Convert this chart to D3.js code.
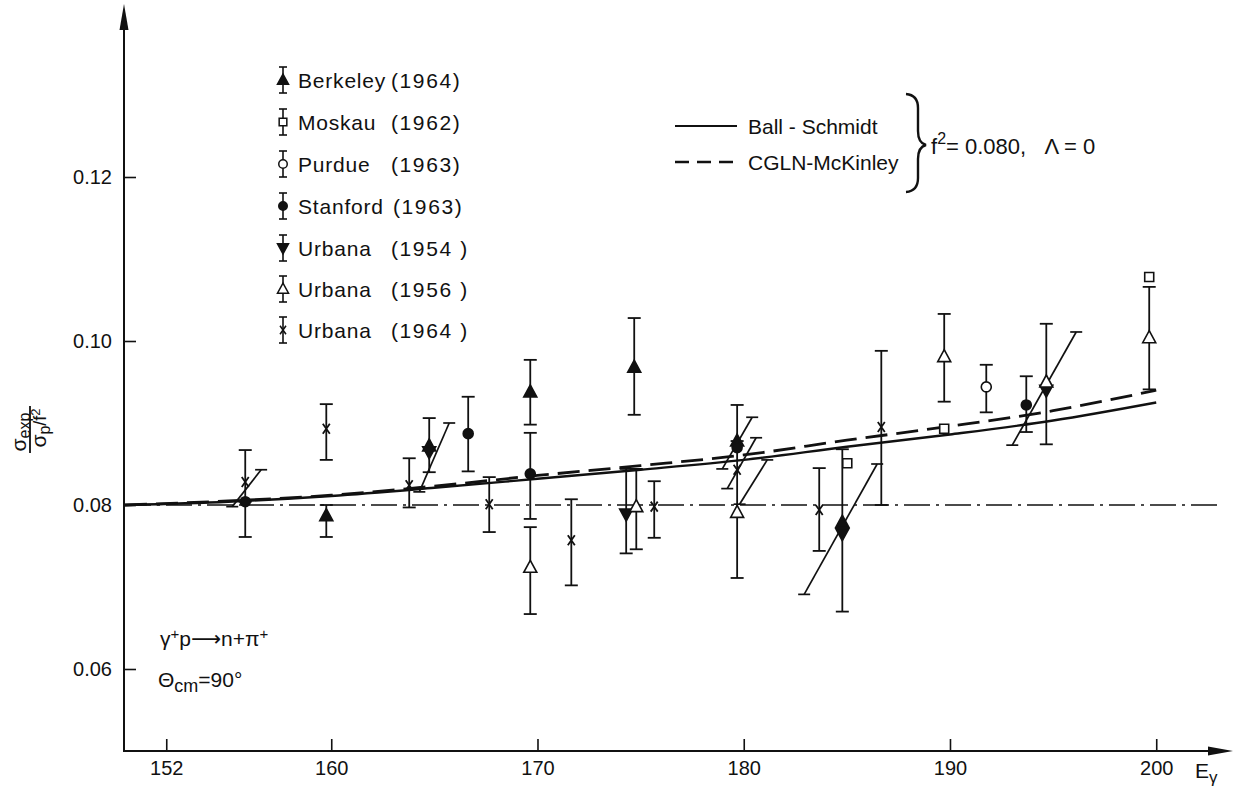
<!DOCTYPE html>
<html>
<head>
<meta charset="utf-8">
<script src="https://cdn.jsdelivr.net/npm/d3@7"></script>
<style>
  body { margin: 0; background: #fff; }
  text { font-family: "Liberation Sans", "DejaVu Sans", sans-serif; fill: #111; }
</style>
</head>
<body>
<svg id="chart" width="1235" height="787"></svg>
<script>
// axis ticks
const xTicks = [152, 160, 170, 180, 190, 200];
const yTicks = [0.06, 0.08, 0.10, 0.12];

// theory curves (E_gamma in MeV)
const curveE = [150, 155, 160, 165, 170, 175, 180, 185, 190, 195, 200];
const ballSchmidt = [0.0800, 0.0804, 0.0811, 0.0821, 0.0832, 0.0843, 0.0855, 0.0871, 0.0886, 0.0903, 0.0925];
const cglnMcKinley = [0.0800, 0.0805, 0.0812, 0.0823, 0.0836, 0.0848, 0.0861, 0.0879, 0.0896, 0.0915, 0.0940];
const refValue = 0.080;

// measurements: e = energy, v = ratio, lo/hi = error bar ends (null = none)
const berkeley = [
  {e: 159.76, v: 0.0787, lo: 0.0761, hi: 0.0800},
  {e: 164.75, v: 0.0872, lo: null,   hi: 0.0906},
  {e: 169.65, v: 0.0938, lo: 0.0898, hi: 0.0977},
  {e: 174.69, v: 0.0968, lo: 0.0910, hi: 0.1028},
  {e: 179.68, v: 0.0878, lo: null,   hi: 0.0922},
  {e: 184.78, v: 0.0779, lo: null,   hi: 0.0868}
];
const moskau = [
  {e: 185.02, v: 0.0851, lo: null, hi: null},
  {e: 189.72, v: 0.0893, lo: null, hi: null},
  {e: 199.66, v: 0.1078, lo: null, hi: null}
];
const purdue = [
  {e: 191.76, v: 0.0944, lo: 0.0913, hi: 0.0971}
];
const stanford = [
  {e: 155.83, v: 0.0804, lo: 0.0761, hi: null},
  {e: 166.64, v: 0.0887, lo: 0.0841, hi: 0.0932},
  {e: 169.65, v: 0.0838, lo: 0.0783, hi: 0.0888},
  {e: 179.68, v: 0.0870, lo: null,   hi: null},
  {e: 193.70, v: 0.0922, lo: 0.0889, hi: 0.0957}
];
const urbana54 = [
  {e: 164.75, v: 0.0865, lo: 0.0840, hi: null},
  {e: 174.30, v: 0.0789, lo: 0.0741, hi: 0.0844},
  {e: 184.78, v: 0.0765, lo: 0.0670, hi: null},
  {e: 194.67, v: 0.0940, lo: 0.0874, hi: null}
];
const urbana56 = [
  {e: 169.65, v: 0.0724, lo: 0.0667, hi: 0.0773},
  {e: 174.79, v: 0.0798, lo: 0.0746, hi: 0.0844},
  {e: 179.68, v: 0.0791, lo: 0.0711, hi: 0.0878},
  {e: 189.72, v: 0.0981, lo: 0.0926, hi: 0.1033},
  {e: 194.67, v: 0.0950, lo: null,   hi: 0.1021},
  {e: 199.66, v: 0.1004, lo: 0.0941, hi: 0.1066}
];
const urbana64 = [
  {e: 155.83, v: 0.0828, lo: 0.0804, hi: 0.0867},
  {e: 159.76, v: 0.0893, lo: 0.0855, hi: 0.0923},
  {e: 163.78, v: 0.0824, lo: 0.0797, hi: 0.0857},
  {e: 167.66, v: 0.0801, lo: 0.0767, hi: 0.0834},
  {e: 171.64, v: 0.0757, lo: 0.0702, hi: 0.0807},
  {e: 175.66, v: 0.0798, lo: 0.0760, hi: 0.0829},
  {e: 179.68, v: 0.0843, lo: null,   hi: null},
  {e: 183.66, v: 0.0794, lo: 0.0744, hi: 0.0845},
  {e: 186.67, v: 0.0895, lo: 0.0800, hi: 0.0988}
];

// slanted energy-resolution bars: [e1, v1, e2, v2]
const slants = [
  [155.2, 0.0798, 156.6, 0.0843],
  [164.27, 0.0816, 165.72, 0.0900],
  [178.96, 0.0844, 180.41, 0.0907],
  [179.2, 0.0820, 180.6, 0.0882],
  [179.8, 0.0801, 181.14, 0.0855],
  [182.93, 0.0691, 186.47, 0.0850],
  [193.02, 0.0873, 196.12, 0.1011]
];

const series = [
  {name: "Berkeley", year: "(1964)", data: berkeley, shape: "up", filled: true},
  {name: "Moskau", year: "(1962)", data: moskau, shape: "square", filled: false},
  {name: "Purdue", year: "(1963)", data: purdue, shape: "circle", filled: false},
  {name: "Stanford", year: "(1963)", data: stanford, shape: "circle", filled: true},
  {name: "Urbana", year: "(1954 )", data: urbana54, shape: "down", filled: true},
  {name: "Urbana", year: "(1956 )", data: urbana56, shape: "up", filled: false},
  {name: "Urbana", year: "(1964 )", data: urbana64, shape: "cross", filled: false}
];

const svg = d3.select("#chart");
const x = d3.scaleLinear().domain([150, 203]).range([125, 1218.1]);
const y = d3.scaleLinear().domain([0.05, 0.14]).range([751, 13]);

// ---------------- axes ----------------
const xAxis = svg.append("g")
  .attr("transform", "translate(0,751)")
  .call(d3.axisBottom(x).tickValues(xTicks).tickSizeInner(-12).tickSizeOuter(0).tickPadding(10).tickFormat(d3.format("d")));
const yAxis = svg.append("g")
  .attr("transform", "translate(124,0)")
  .call(d3.axisLeft(y).tickValues(yTicks).tickSizeInner(-12).tickSizeOuter(0).tickPadding(12).tickFormat(d3.format(".2f")));
[xAxis, yAxis].forEach(a => {
  a.select(".domain").remove();
  a.selectAll(".tick line").attr("stroke", "#111").attr("stroke-width", 1.6);
  a.selectAll(".tick text").style("font-size", "20px").style("font-family", "Liberation Sans, sans-serif").attr("fill", "#111");
});

svg.append("line").attr("x1", 124).attr("y1", 752).attr("x2", 124).attr("y2", 24)
  .attr("stroke", "#111").attr("stroke-width", 2);
svg.append("path").attr("d", "M124,4 L119.5,30 L128.5,30 Z").attr("fill", "#111");
svg.append("line").attr("x1", 123).attr("y1", 751).attr("x2", 1214).attr("y2", 751)
  .attr("stroke", "#111").attr("stroke-width", 2);
svg.append("path").attr("d", "M1233,751 L1208,746.5 L1208,755.5 Z").attr("fill", "#111");

// ---------------- reference + theory ----------------
svg.append("line")
  .attr("x1", x(150)).attr("x2", x(203)).attr("y1", y(refValue)).attr("y2", y(refValue))
  .attr("stroke", "#111").attr("stroke-width", 1.5).attr("stroke-dasharray", "26,6,3,6");

const line = d3.line().x(d => x(d[0])).y(d => y(d[1])).curve(d3.curveMonotoneX);
svg.append("path").datum(curveE.map((e, i) => [e, ballSchmidt[i]]))
  .attr("d", line).attr("fill", "none").attr("stroke", "#111").attr("stroke-width", 2.4);
svg.append("path").datum(curveE.map((e, i) => [e, cglnMcKinley[i]]))
  .attr("d", line).attr("fill", "none").attr("stroke", "#111").attr("stroke-width", 2.8)
  .attr("stroke-dasharray", "22,9");

// ---------------- slanted bars ----------------
const slantG = svg.append("g").attr("stroke", "#111").attr("stroke-width", 1.7);
slants.forEach(s => {
  const x1 = x(s[0]), y1 = y(s[1]), x2 = x(s[2]), y2 = y(s[3]);
  slantG.append("line").attr("x1", x1).attr("y1", y1).attr("x2", x2).attr("y2", y2);
  slantG.append("line").attr("x1", x1 - 6).attr("x2", x1 + 6).attr("y1", y1).attr("y2", y1);
  slantG.append("line").attr("x1", x2 - 6).attr("x2", x2 + 6).attr("y1", y2).attr("y2", y2);
});

// ---------------- markers ----------------
function markerPath(shape, s) {
  if (shape === "up") return `M0,${-7 * s} L${6.5 * s},${5 * s} L${-6.5 * s},${5 * s} Z`;
  if (shape === "down") return `M0,${7 * s} L${6.5 * s},${-5 * s} L${-6.5 * s},${-5 * s} Z`;
  if (shape === "square") return `M${-4.5 * s},${-4.5 * s} h${9 * s} v${9 * s} h${-9 * s} Z`;
  if (shape === "circle") return d3.arc()({innerRadius: 0, outerRadius: 5 * s, startAngle: 0, endAngle: 2 * Math.PI});
  return `M${-3.5 * s},${-5 * s} L${3.5 * s},${5 * s} M${3.5 * s},${-5 * s} L${-3.5 * s},${5 * s}`;
}

const barG = svg.append("g").attr("stroke", "#111").attr("stroke-width", 1.8);
series.forEach(sr => {
  sr.data.forEach(d => {
    const cx = x(d.e);
    [d.lo, d.hi].forEach(end => {
      if (end === null) return;
      barG.append("line").attr("x1", cx).attr("x2", cx).attr("y1", y(d.v)).attr("y2", y(end));
      barG.append("line").attr("x1", cx - 6.5).attr("x2", cx + 6.5).attr("y1", y(end)).attr("y2", y(end));
    });
  });
});

const markG = svg.append("g");
series.forEach(sr => {
  markG.selectAll(null).data(sr.data).enter().append("path")
    .attr("transform", d => `translate(${x(d.e)},${y(d.v)})`)
    .attr("d", markerPath(sr.shape, 1))
    .attr("fill", sr.shape === "cross" ? "none" : (sr.filled ? "#111" : "#fff"))
    .attr("stroke", "#111").attr("stroke-width", sr.shape === "cross" ? 1.8 : 1.6);
});

// ---------------- legend ----------------
const legend = svg.append("g").attr("transform", "translate(283,0)");
const legendRows = [80, 122, 164, 206, 248, 289, 330];
series.forEach((sr, i) => {
  const g = legend.append("g").attr("transform", `translate(0,${legendRows[i]})`);
  g.append("line").attr("x1", 0).attr("x2", 0).attr("y1", -13).attr("y2", 13).attr("stroke", "#111").attr("stroke-width", 1.6);
  g.append("line").attr("x1", -4).attr("x2", 4).attr("y1", -13).attr("y2", -13).attr("stroke", "#111").attr("stroke-width", 1.6);
  g.append("line").attr("x1", -4).attr("x2", 4).attr("y1", 13).attr("y2", 13).attr("stroke", "#111").attr("stroke-width", 1.6);
  g.append("path").attr("d", markerPath(sr.shape, 0.85))
    .attr("fill", sr.shape === "cross" ? "none" : (sr.filled ? "#111" : "#fff"))
    .attr("stroke", "#111").attr("stroke-width", 1.5);
  g.append("text").attr("x", 15).attr("y", 8).style("font-size", "21px").style("letter-spacing", "0.8px").text(sr.name);
  g.append("text").attr("x", sr.name === "Stanford" ? 110 : 108).attr("y", 8)
    .style("font-size", "21px").style("letter-spacing", "1.6px").style("white-space", "pre").text(sr.year);
});

// theory legend
svg.append("line").attr("x1", 675).attr("x2", 737).attr("y1", 126).attr("y2", 126).attr("stroke", "#111").attr("stroke-width", 2);
svg.append("line").attr("x1", 675).attr("x2", 737).attr("y1", 162).attr("y2", 162).attr("stroke", "#111").attr("stroke-width", 2.4).attr("stroke-dasharray", "14,8");
svg.append("text").attr("x", 748).attr("y", 134).style("font-size", "21px").text("Ball - Schmidt");
svg.append("text").attr("x", 748).attr("y", 170).style("font-size", "21px").text("CGLN-McKinley");
svg.append("path")
  .attr("d", "M906,94 Q918,95 918,108 L918,131 Q918,143 926,145 Q918,147 918,159 L918,178 Q918,191 906,192")
  .attr("fill", "none").attr("stroke", "#111").attr("stroke-width", 2.4);
const fTxt = svg.append("text").attr("x", 931).attr("y", 154).style("font-size", "22px").style("white-space", "pre");
fTxt.append("tspan").text("f");
fTxt.append("tspan").attr("dy", -10).style("font-size", "16px").text("2");
fTxt.append("tspan").attr("dy", 10).text("= 0.080,   \u039B = 0");

// ---------------- labels ----------------
const yl = svg.append("g").attr("transform", "translate(31,428) rotate(-90)");
const num = yl.append("text").attr("x", -4).attr("y", -5).attr("text-anchor", "middle").style("font-size", "21px");
num.append("tspan").text("\u03C3");
num.append("tspan").attr("dy", 4).style("font-size", "16px").text("exp");
yl.append("line").attr("x1", -25).attr("x2", 22).attr("y1", -1).attr("y2", -1).attr("stroke", "#111").attr("stroke-width", 1.8);
const den = yl.append("text").attr("x", 0).attr("y", 15).attr("text-anchor", "middle").style("font-size", "21px");
den.append("tspan").text("\u03C3");
den.append("tspan").attr("dy", 4).style("font-size", "16px").text("p");
den.append("tspan").attr("dy", -4).style("font-size", "18px").text("/f");
den.append("tspan").attr("dy", -6).style("font-size", "13px").text("2");

const r1 = svg.append("text").attr("x", 160).attr("y", 646).style("font-size", "21px");
r1.append("tspan").text("\u03B3");
r1.append("tspan").attr("dy", -7).style("font-size", "15px").text("+");
r1.append("tspan").attr("dy", 7).text("p\u27F6n+\u03C0");
r1.append("tspan").attr("dy", -7).style("font-size", "15px").text("+");
const r2 = svg.append("text").attr("x", 158).attr("y", 687).style("font-size", "21px");
r2.append("tspan").text("\u0398");
r2.append("tspan").attr("dy", 5).style("font-size", "18px").text("cm");
r2.append("tspan").attr("dy", -5).text("=90\u00B0");

const ex = svg.append("text").attr("x", 1195).attr("y", 778).style("font-size", "21px");
ex.append("tspan").text("E");
ex.append("tspan").attr("dy", 5).style("font-size", "17px").text("\u03B3");
</script>
</body>
</html>
